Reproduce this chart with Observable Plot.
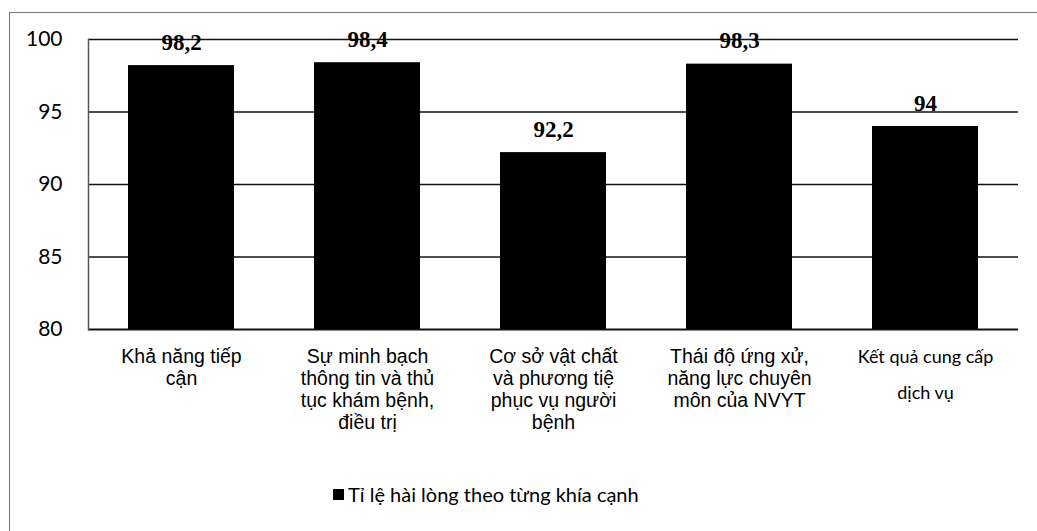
<!DOCTYPE html>
<html>
<head>
<meta charset="utf-8">
<script src="https://cdn.jsdelivr.net/npm/d3@7"></script>
<script src="https://cdn.jsdelivr.net/npm/@observablehq/plot@0.6"></script>
<style>
  html, body { margin: 0; padding: 0; background: #fff; }
  #wrap { position: relative; width: 1037px; height: 531px; overflow: hidden; }
  #frame { position: absolute; left: 9px; top: 12px; width: 1100px; height: 600px;
           border-left: 1.5px solid #777; border-top: 1.5px solid #777; }
  #chart { position: absolute; left: 0; top: 0; }
  #legend { position: absolute; left: 333px; top: 482px; font-family: Lato, sans-serif;
            font-size: 20px; color: #000; display: flex; align-items: center; white-space: nowrap; }
  #legend .sw { width: 11px; height: 11px; background: #000; margin-right: 4px; }
</style>
</head>
<body>
<div id="wrap">
  <div id="frame"></div>
  <div id="chart"></div>
  <div id="legend"><span class="sw"></span><span>Tỉ lệ hài lòng theo từng khía cạnh</span></div>
</div>
<script>
const categories = [
  "Khả năng tiếp\ncận",
  "Sự minh bạch\nthông tin và thủ\ntục khám bệnh,\nđiều trị",
  "Cơ sở vật chất\nvà phương tiệ\nphục vụ người\nbệnh",
  "Thái độ ứng xử,\nnăng lực chuyên\nmôn của NVYT",
  "Kết quả cung cấp\ndịch vụ"
];
const values = [98.2, 98.4, 92.2, 98.3, 94];
const valueLabels = ["98,2", "98,4", "92,2", "98,3", "94"];
const yTicks = [80, 85, 90, 95, 100];
const gridTicks = [85, 90, 95, 100];
const seriesName = "Tỉ lệ hài lòng theo từng khía cạnh";

const data = categories.map((c, i) => ({cat: c, value: values[i], label: valueLabels[i]}));

const chart = Plot.plot({
  width: 1037,
  height: 470,
  marginTop: 39,
  marginBottom: 141,
  marginLeft: 88,
  marginRight: 19,
  style: {background: "transparent", overflow: "visible"},
  x: {domain: categories, paddingInner: 0.43, paddingOuter: 0.215, axis: null},
  y: {domain: [80, 100], axis: null},
  marks: [
    Plot.ruleY(gridTicks, {stroke: "#111", strokeWidth: 1.5}),
    Plot.ruleY([80], {stroke: "#111", strokeWidth: 2}),
    Plot.frame({anchor: "left", stroke: "#555", strokeWidth: 1.5}),
    Plot.barY(data, {x: "cat", y1: 80, y2: "value", fill: "#000"}),
    Plot.axisY({ticks: yTicks, tickSize: 0, tickPadding: 26, fontSize: 21,
                fontFamily: "Lato, sans-serif", fill: "#000", label: null}),
    Plot.text(data, {x: "cat", y: d => Math.min(d.value + 1.1, 100), text: "label",
                     lineAnchor: "bottom", fontFamily: "Liberation Serif, serif",
                     fontWeight: "bold", fontSize: 23, fill: "#000"}),
    Plot.text(data.slice(0, 4), {x: "cat", y: 80, text: "cat", lineAnchor: "top", dy: 18,
                     fontFamily: "Liberation Sans, Arial, sans-serif", fontSize: 19.5,
                     lineHeight: 1.13, fill: "#000"}),
    Plot.text(data.slice(4), {x: "cat", y: 80, text: "cat", lineAnchor: "top", dy: 8,
                     fontFamily: "Lato, sans-serif", fontSize: 18,
                     lineHeight: 2.0, fill: "#000"})
  ]
});
document.getElementById("chart").appendChild(chart);
</script>
</body>
</html>
